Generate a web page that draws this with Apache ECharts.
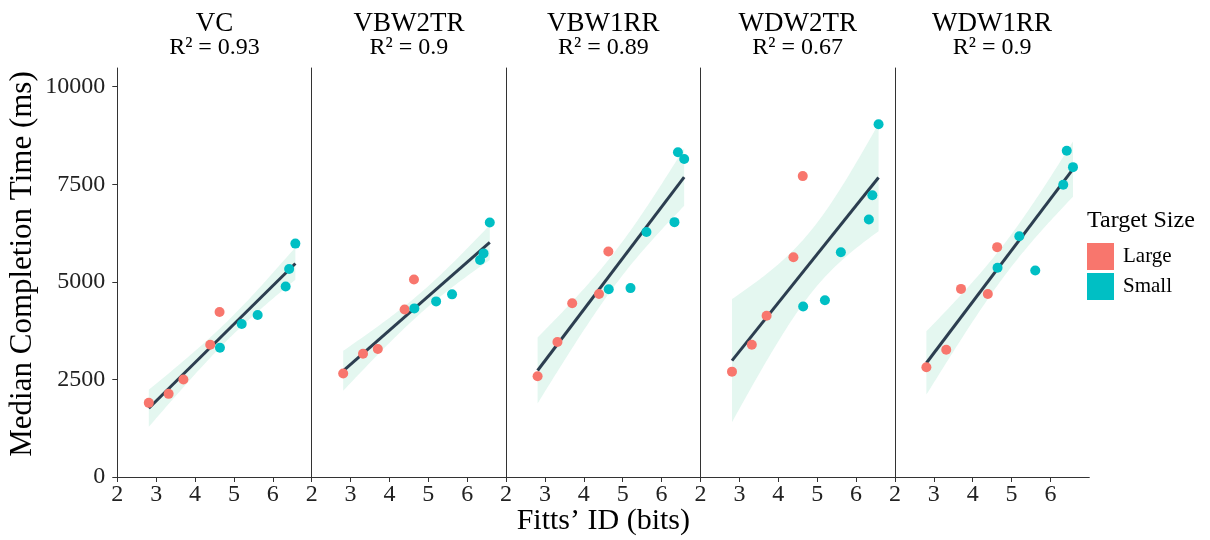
<!DOCTYPE html>
<html>
<head>
<meta charset="utf-8">
<script src="https://cdn.jsdelivr.net/npm/echarts@6/dist/echarts.min.js"></script>
<style>
  html, body { margin: 0; padding: 0; background: #fff; }
  #main { width: 1210px; height: 540px; }
</style>
</head>
<body>
<div id="main"></div>
<script type="text/javascript">

    // facets and their R^2 labels
    var panels = ['VC', 'VBW2TR', 'VBW1RR', 'WDW2TR', 'WDW1RR'];
    var rsq = ['0.93', '0.9', '0.89', '0.67', '0.9'];

    // Fitts' ID (bits) of each condition, same for every facet
    var largeX = [2.81, 3.32, 3.70, 4.39, 4.63];
    var smallX = [4.64, 5.20, 5.61, 6.33, 6.42, 6.58];

    // median completion time (ms), one row per facet
    var largeY = [
        [1900, 2130, 2500, 3390, 4230],
        [2650, 3160, 3280, 4290, 5060],
        [2580, 3460, 4450, 4690, 5780],
        [2700, 3390, 4130, 5630, 7710],
        [2810, 3260, 4820, 4690, 5890]
    ];
    var smallY = [
        [3310, 3920, 4150, 4880, 5330, 5980],
        [4320, 4500, 4680, 5560, 5730, 6520],
        [4810, 4840, 6280, 6530, 8320, 8150],
        [4370, 4530, 5760, 6600, 7220, 9040],
        [5360, 6170, 5290, 7490, 8360, 7940]
    ];

    var xTicks = [2, 3, 4, 5, 6];
    var yTicks = [0, 2500, 5000, 7500, 10000];

    var FONT = 'Liberation Serif';
    var RED = '#F8766D', CYAN = '#00BFC4';
    var left0 = 117.3, pw = 194.4;

    // lm fit with 95% confidence band (t, df = 9)
    function fit(xs, ys) {
        var n = xs.length, mx = 0, my = 0;
        for (var i = 0; i < n; i++) { mx += xs[i]; my += ys[i]; }
        mx /= n; my /= n;
        var sxx = 0, sxy = 0;
        for (var i = 0; i < n; i++) {
            sxx += (xs[i] - mx) * (xs[i] - mx);
            sxy += (xs[i] - mx) * (ys[i] - my);
        }
        var b = sxy / sxx, a = my - b * mx, sse = 0;
        for (var i = 0; i < n; i++) {
            var r = ys[i] - (a + b * xs[i]);
            sse += r * r;
        }
        var s = Math.sqrt(sse / (n - 2)), t = 2.262;
        var x0 = Math.min.apply(null, xs), x1 = Math.max.apply(null, xs);
        var band = [];
        for (var k = 0; k <= 60; k++) {
            var x = x0 + (x1 - x0) * k / 60;
            var yh = a + b * x;
            var se = s * Math.sqrt(1 / n + (x - mx) * (x - mx) / sxx);
            band.push([x, yh - t * se, yh + t * se]);
        }
        return { line: [[x0, a + b * x0], [x1, a + b * x1]], band: band };
    }

    var grid = [], xAxis = [], yAxis = [], series = [], graphic = [];

    for (var p = 0; p < panels.length; p++) {
        grid.push({ left: left0 + p * pw, width: pw, top: 68, bottom: 63, outerBoundsMode: 'none' });

        xAxis.push({
            type: 'value', gridIndex: p, min: 2, max: 7,
            axisLine: { show: true, onZero: false, lineStyle: { color: '#333', width: 1 } },
            axisTick: { show: true, length: 5, customValues: xTicks, lineStyle: { color: '#333' } },
            axisLabel: { customValues: xTicks, fontFamily: FONT, fontSize: 24, color: '#222', margin: 6 },
            splitLine: { show: false }
        });

        yAxis.push({
            type: 'value', gridIndex: p, min: 0, max: 10480,
            axisLine: { show: true, lineStyle: { color: '#333', width: 1 } },
            axisTick: { show: p === 0, length: 5, customValues: yTicks, lineStyle: { color: '#333' } },
            axisLabel: {
                show: p === 0, customValues: yTicks, fontFamily: FONT, fontSize: 24, color: '#222', margin: 12,
                formatter: function (v) { return String(v); }
            },
            splitLine: { show: false }
        });

        var xs = largeX.concat(smallX);
        var ys = largeY[p].concat(smallY[p]);
        var f = fit(xs, ys);

        series.push({
            type: 'custom', xAxisIndex: p, yAxisIndex: p, silent: true, z: 1,
            data: [[f.band[0][0], f.band[0][1]]],
            renderItem: (function (band) {
                return function (params, api) {
                    var pts = [];
                    for (var k = 0; k < band.length; k++) pts.push(api.coord([band[k][0], band[k][2]]));
                    for (var k = band.length - 1; k >= 0; k--) pts.push(api.coord([band[k][0], band[k][1]]));
                    return { type: 'polygon', shape: { points: pts }, style: { fill: '#E4F7F0' } };
                };
            })(f.band)
        });

        series.push({
            type: 'line', xAxisIndex: p, yAxisIndex: p, z: 2, silent: true,
            data: f.line, symbol: 'none',
            lineStyle: { color: '#2C3E50', width: 3 }
        });

        series.push({
            name: 'Large', type: 'scatter', xAxisIndex: p, yAxisIndex: p, z: 3,
            data: largeX.map(function (x, i) { return [x, largeY[p][i]]; }),
            symbolSize: 10, itemStyle: { color: RED, opacity: 1 }
        });
        series.push({
            name: 'Small', type: 'scatter', xAxisIndex: p, yAxisIndex: p, z: 3,
            data: smallX.map(function (x, i) { return [x, smallY[p][i]]; }),
            symbolSize: 10, itemStyle: { color: CYAN, opacity: 1 }
        });

        var cx = left0 + p * pw + pw / 2;
        graphic.push({
            type: 'text', x: cx, y: 24,
            style: { text: panels[p], fontFamily: FONT, fontSize: 27, fill: '#000', textAlign: 'center', textVerticalAlign: 'middle' }
        });
        graphic.push({
            type: 'text', x: cx, y: 48,
            style: { text: 'R\u00B2 = ' + rsq[p], fontFamily: FONT, fontSize: 24, fill: '#000', textAlign: 'center', textVerticalAlign: 'middle' }
        });
    }

    // axis titles
    graphic.push({
        type: 'text', x: 23, y: 264, rotation: Math.PI / 2,
        style: { text: 'Median Completion Time (ms)', fontFamily: FONT, fontSize: 31, fill: '#000', textAlign: 'center', textVerticalAlign: 'middle' }
    });
    graphic.push({
        type: 'text', x: left0 + 2.5 * pw, y: 521,
        style: { text: 'Fitts\u2019 ID (bits)', fontFamily: FONT, fontSize: 30, fill: '#000', textAlign: 'center', textVerticalAlign: 'middle' }
    });
    graphic.push({
        type: 'text', x: 1087, y: 221,
        style: { text: 'Target Size', fontFamily: FONT, fontSize: 24, fill: '#000', textAlign: 'left', textVerticalAlign: 'middle' }
    });

    var chart = echarts.init(document.getElementById('main'));
    chart.setOption({
        animation: false,
        backgroundColor: '#fff',
        grid: grid,
        xAxis: xAxis,
        yAxis: yAxis,
        legend: {
            data: ['Large', 'Small'],
            orient: 'vertical', left: 1087, top: 243, padding: 0,
            icon: 'rect', itemWidth: 27, itemHeight: 27, itemGap: 3,
            selectedMode: false,
            textStyle: { fontFamily: FONT, fontSize: 21, color: '#000', padding: [0, 0, 0, 4] }
        },
        series: series,
        graphic: graphic
    });
</script>
</body>
</html>
